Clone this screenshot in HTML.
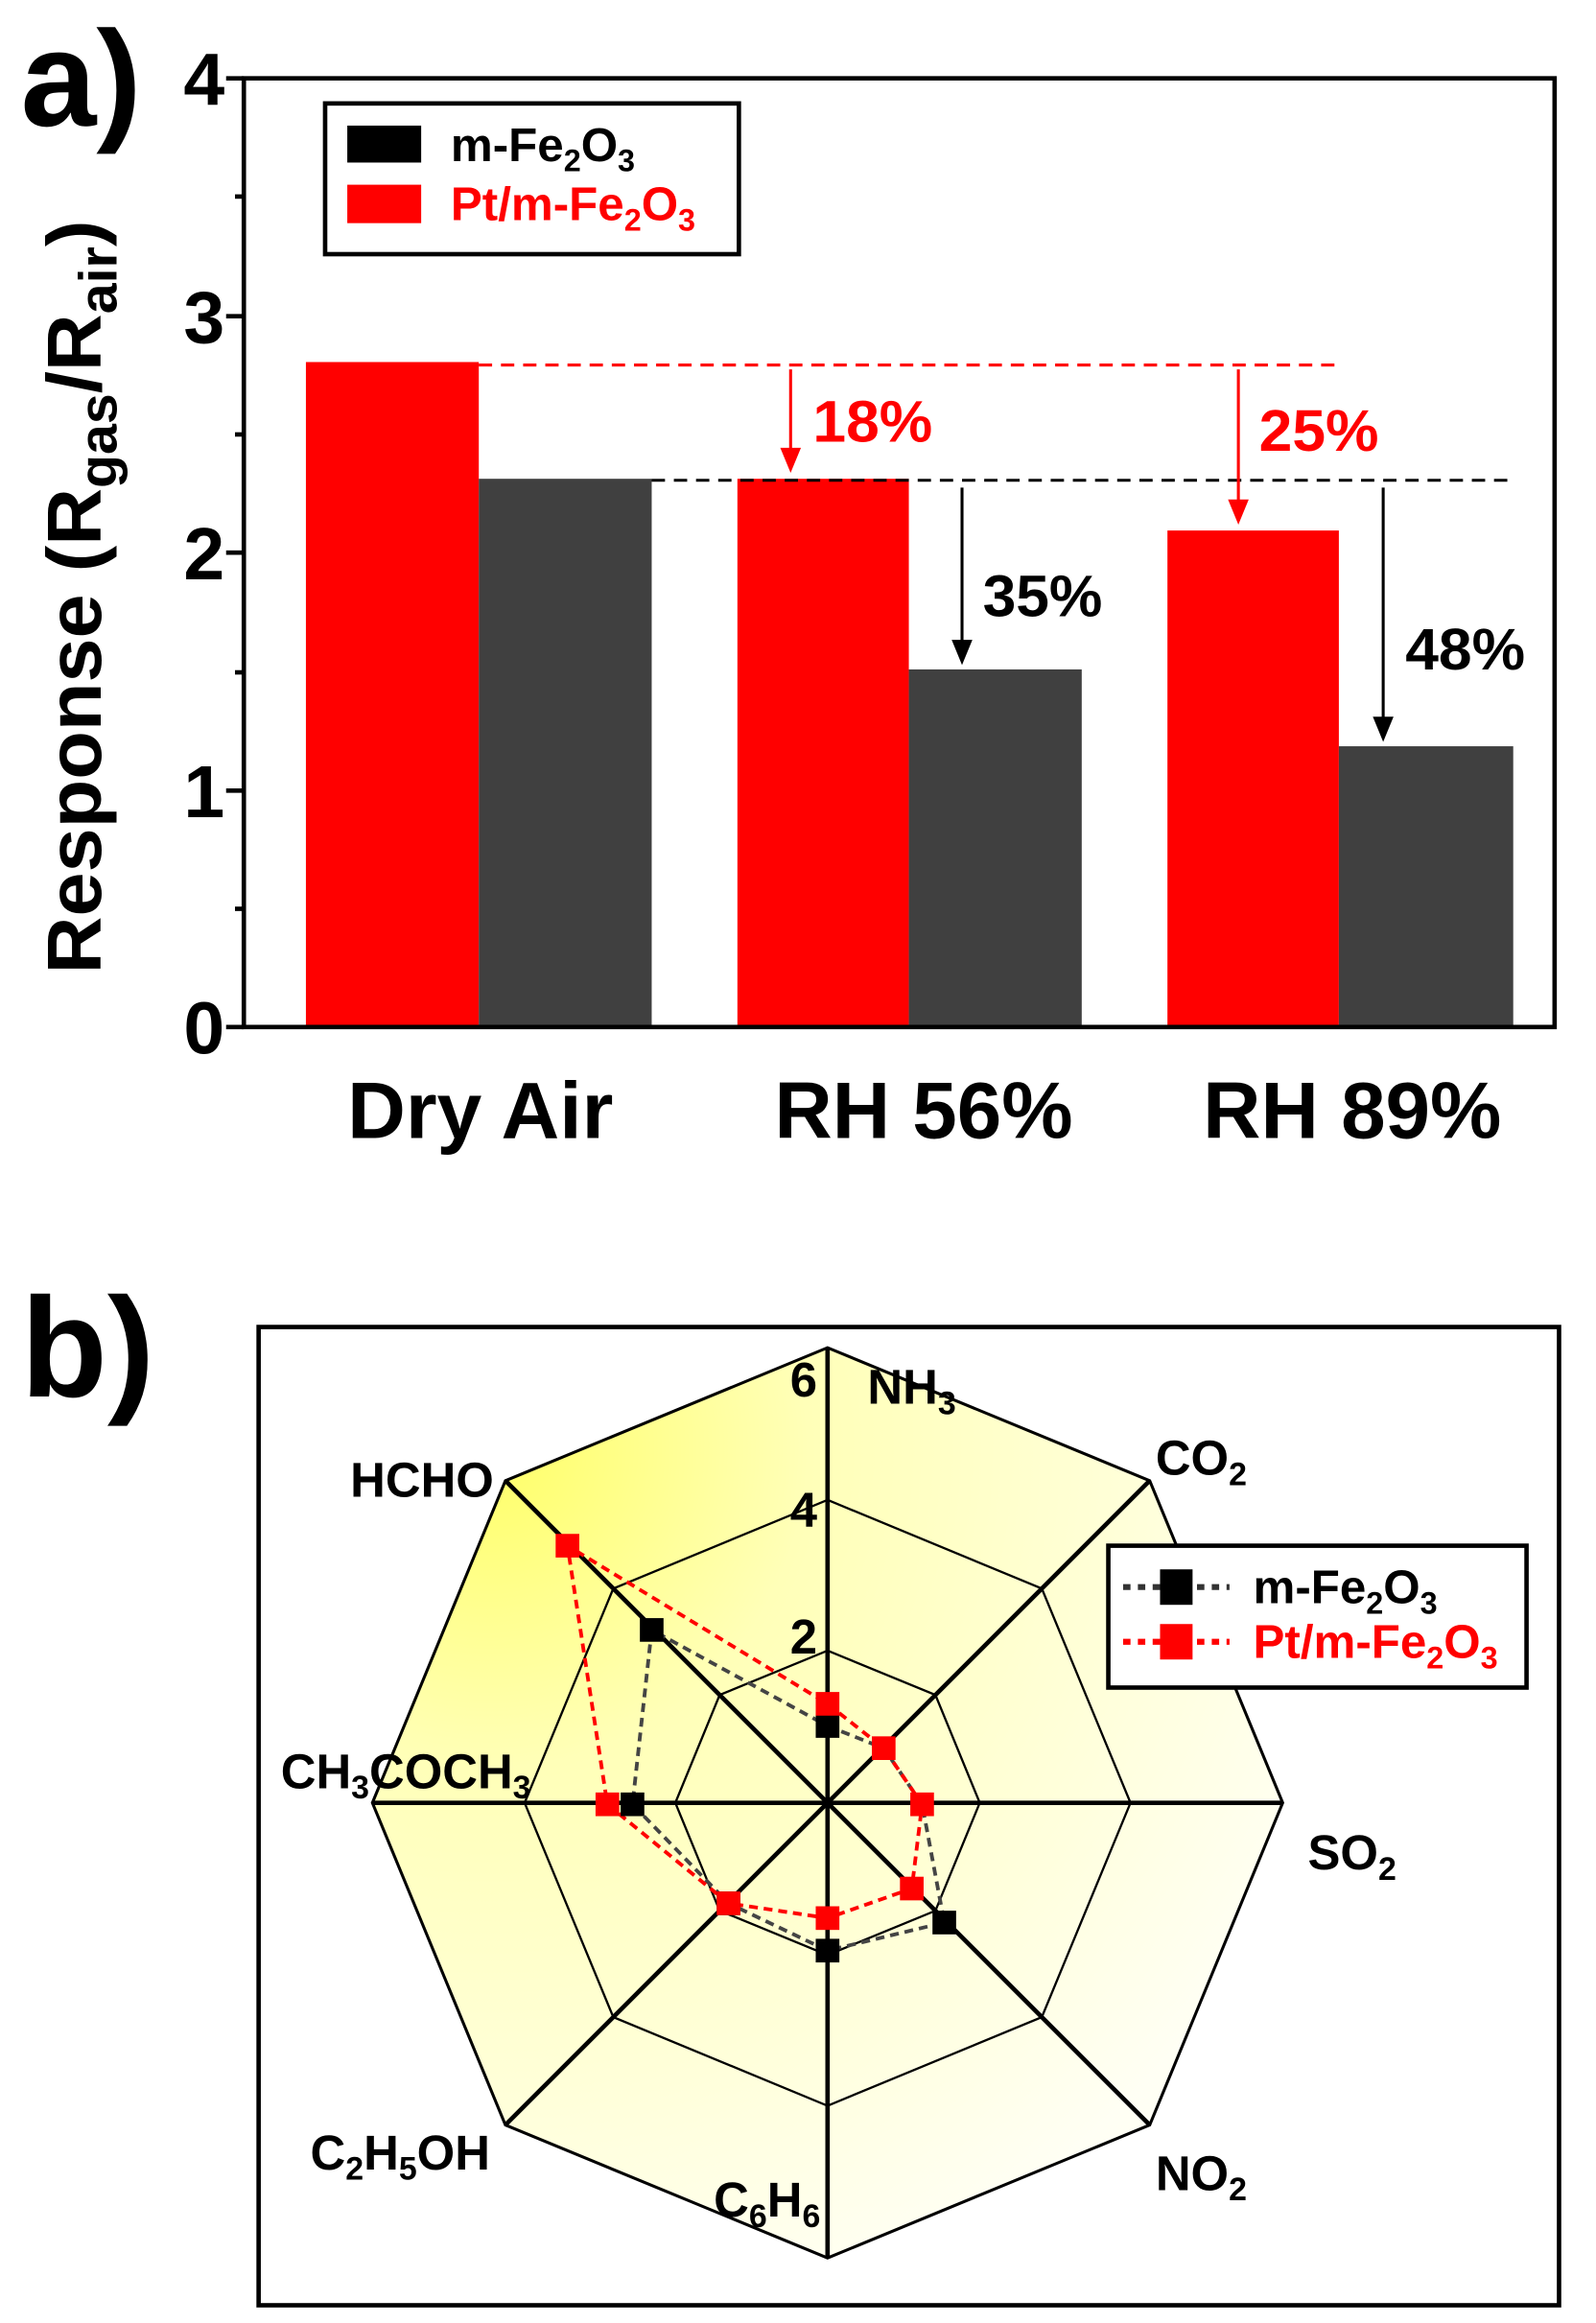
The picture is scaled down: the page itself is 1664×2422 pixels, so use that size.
<!DOCTYPE html>
<html><head><meta charset="utf-8"><style>
html,body{margin:0;padding:0;background:#fff;}
svg{display:block;}
text{font-family:"Liberation Sans Narrow","Liberation Sans",sans-serif;font-weight:bold;}
.w{font-family:"Liberation Sans",sans-serif;}
</style></head><body>
<svg width="1664" height="2422" viewBox="0 0 1080 1572" xmlns="http://www.w3.org/2000/svg">
<defs>
<radialGradient id="yg" cx="330" cy="980" r="620" gradientUnits="userSpaceOnUse">
<stop offset="0" stop-color="#ffff66"/>
<stop offset="0.35" stop-color="#ffffb8"/>
<stop offset="1" stop-color="#fffff4"/>
</radialGradient>
</defs>
<!-- panel a -->
<text x="14" y="85" font-size="92" class="w" font-weight="bold">a)</text>
<rect x="207" y="245" width="117" height="450" fill="#ff0000"/>
<rect x="324" y="324" width="117" height="371" fill="#404040"/>
<rect x="499" y="324" width="116" height="371" fill="#ff0000"/>
<rect x="615" y="453" width="117" height="242" fill="#404040"/>
<rect x="790" y="359" width="116" height="336" fill="#ff0000"/>
<rect x="906" y="505" width="118" height="190" fill="#404040"/>
<rect x="165" y="53" width="887" height="642" fill="none" stroke="#000" stroke-width="3"/>
<g stroke="#000" stroke-width="3">
<line x1="153" y1="53" x2="165" y2="53"/><line x1="153" y1="214" x2="165" y2="214"/>
<line x1="153" y1="374" x2="165" y2="374"/><line x1="153" y1="535" x2="165" y2="535"/>
<line x1="153" y1="695" x2="165" y2="695"/>
<line x1="159" y1="133" x2="165" y2="133"/><line x1="159" y1="294" x2="165" y2="294"/>
<line x1="159" y1="455" x2="165" y2="455"/><line x1="159" y1="615" x2="165" y2="615"/>
</g>
<g font-size="50" text-anchor="end">
<text x="152" y="71">4</text><text x="152" y="232">3</text><text x="152" y="392">2</text>
<text x="152" y="553">1</text><text x="152" y="713">0</text>
</g>
<text transform="translate(68,404) rotate(-90)" text-anchor="middle" font-size="52" class="w" font-weight="bold" textLength="510" lengthAdjust="spacingAndGlyphs">Response (R<tspan font-size="36" dy="11">gas</tspan><tspan dy="-11">/R</tspan><tspan font-size="36" dy="11">air</tspan><tspan dy="-11">)</tspan></text>
<line x1="324" y1="247" x2="906" y2="247" stroke="#ff0000" stroke-width="2" stroke-dasharray="9,6"/>
<line x1="441" y1="325" x2="1022" y2="325" stroke="#000" stroke-width="2" stroke-dasharray="9,6"/>
<g stroke="#ff0000" stroke-width="2" fill="#ff0000">
<line x1="535" y1="250" x2="535" y2="305"/><polygon points="528,303 542,303 535,320" stroke="none"/>
<line x1="838" y1="250" x2="838" y2="340"/><polygon points="831,338 845,338 838,355" stroke="none"/>
</g>
<g stroke="#000" stroke-width="2" fill="#000">
<line x1="651" y1="330" x2="651" y2="435"/><polygon points="644,433 658,433 651,450" stroke="none"/>
<line x1="936" y1="330" x2="936" y2="487"/><polygon points="929,485 943,485 936,502" stroke="none"/>
</g>
<text x="550" y="299" font-size="40" fill="#ff0000" textLength="81" lengthAdjust="spacingAndGlyphs">18%</text>
<text x="852" y="305" font-size="40" fill="#ff0000" textLength="81" lengthAdjust="spacingAndGlyphs">25%</text>
<text x="665" y="417" font-size="40" textLength="81" lengthAdjust="spacingAndGlyphs">35%</text>
<text x="951" y="453" font-size="40" textLength="81" lengthAdjust="spacingAndGlyphs">48%</text>
<rect x="220" y="70" width="280" height="102" fill="#fff" stroke="#000" stroke-width="3"/>
<rect x="235" y="85" width="50" height="25" fill="#000"/>
<rect x="235" y="125" width="50" height="26" fill="#ff0000"/>
<text x="305" y="109" font-size="32">m-Fe<tspan font-size="21" dy="7">2</tspan><tspan dy="-7">O</tspan><tspan font-size="21" dy="7">3</tspan></text>
<text x="305" y="149" font-size="32" fill="#ff0000">Pt/m-Fe<tspan font-size="21" dy="7">2</tspan><tspan dy="-7">O</tspan><tspan font-size="21" dy="7">3</tspan></text>
<g font-size="54">
<text x="235" y="770" textLength="180" lengthAdjust="spacingAndGlyphs">Dry Air</text>
<text x="524" y="770" textLength="202" lengthAdjust="spacingAndGlyphs">RH 56%</text>
<text x="814" y="770" textLength="202" lengthAdjust="spacingAndGlyphs">RH 89%</text>
</g>
<!-- panel b -->
<text x="14" y="945" font-size="96" class="w" font-weight="bold">b)</text>
<rect x="175" y="898" width="880" height="662" fill="#fff" stroke="#000" stroke-width="3"/>
<polygon points="560,912 778,1002 868,1220 778,1438 560,1528 342,1438 252,1220 342,1002" fill="url(#yg)" stroke="#000" stroke-width="2"/>
<g fill="none" stroke="#000" stroke-width="1.5">
<polygon points="560,1015 705,1075 765,1220 705,1365 560,1425 415,1365 355,1220 415,1075"/>
<polygon points="560,1117 633,1147 663,1220 633,1293 560,1323 487,1293 457,1220 487,1147"/>
</g>
<g stroke="#000" stroke-width="3">
<line x1="560" y1="912" x2="560" y2="1528"/><line x1="252" y1="1220" x2="868" y2="1220"/>
<line x1="342" y1="1002" x2="778" y2="1438"/><line x1="778" y1="1002" x2="342" y2="1438"/>
</g>
<g font-size="33" text-anchor="end">
<text x="553" y="945">6</text><text x="553" y="1033">4</text><text x="553" y="1119">2</text>
</g>
<g font-size="33">
<text x="587" y="950">NH<tspan font-size="22" dy="7">3</tspan></text>
<text x="782" y="998">CO<tspan font-size="22" dy="7">2</tspan></text>
<text x="885" y="1265">SO<tspan font-size="22" dy="7">2</tspan></text>
<text x="782" y="1482">NO<tspan font-size="22" dy="7">2</tspan></text>
<text x="483" y="1500">C<tspan font-size="22" dy="7">6</tspan><tspan dy="-7">H</tspan><tspan font-size="22" dy="7">6</tspan></text>
<text x="210" y="1468">C<tspan font-size="22" dy="7">2</tspan><tspan dy="-7">H</tspan><tspan font-size="22" dy="7">5</tspan><tspan dy="-7">OH</tspan></text>
<text x="190" y="1210">CH<tspan font-size="22" dy="7">3</tspan><tspan dy="-7">COCH</tspan><tspan font-size="22" dy="7">3</tspan></text>
<text x="237" y="1013">HCHO</text>
</g>
<polygon points="560,1168 598,1183 624,1221 639,1301 560,1320 493,1288 428,1221 441,1103" fill="none" stroke="#444" stroke-width="2.5" stroke-dasharray="6,4"/>
<polygon points="560,1153 598,1183 624,1221 617,1278 560,1298 493,1288 411,1221 384,1046" fill="none" stroke="#ff0000" stroke-width="2.5" stroke-dasharray="6,4"/>
<g fill="#000">
<rect x="552" y="1160" width="16" height="16"/><rect x="631" y="1293" width="16" height="16"/>
<rect x="552" y="1312" width="16" height="16"/><rect x="420" y="1213" width="16" height="16"/>
<rect x="433" y="1095" width="16" height="16"/><rect x="485" y="1280" width="16" height="16"/>
</g>
<g fill="#ff0000">
<rect x="552" y="1145" width="16" height="16"/><rect x="590" y="1175" width="16" height="16"/>
<rect x="616" y="1213" width="16" height="16"/><rect x="609" y="1270" width="16" height="16"/>
<rect x="552" y="1290" width="16" height="16"/><rect x="485" y="1280" width="16" height="16"/>
<rect x="403" y="1213" width="16" height="16"/><rect x="376" y="1038" width="16" height="16"/>
</g>
<rect x="750" y="1046" width="283" height="96" fill="#fff" stroke="#000" stroke-width="3"/>
<line x1="760" y1="1074" x2="832" y2="1074" stroke="#333" stroke-width="4" stroke-dasharray="5,5"/>
<rect x="785" y="1062" width="22" height="24" fill="#000"/>
<line x1="760" y1="1111" x2="832" y2="1111" stroke="#ff0000" stroke-width="4" stroke-dasharray="5,5"/>
<rect x="785" y="1099" width="22" height="24" fill="#ff0000"/>
<text x="848" y="1085" font-size="32">m-Fe<tspan font-size="21" dy="7">2</tspan><tspan dy="-7">O</tspan><tspan font-size="21" dy="7">3</tspan></text>
<text x="848" y="1122" font-size="32" fill="#ff0000">Pt/m-Fe<tspan font-size="21" dy="7">2</tspan><tspan dy="-7">O</tspan><tspan font-size="21" dy="7">3</tspan></text>
</svg>
</body></html>
